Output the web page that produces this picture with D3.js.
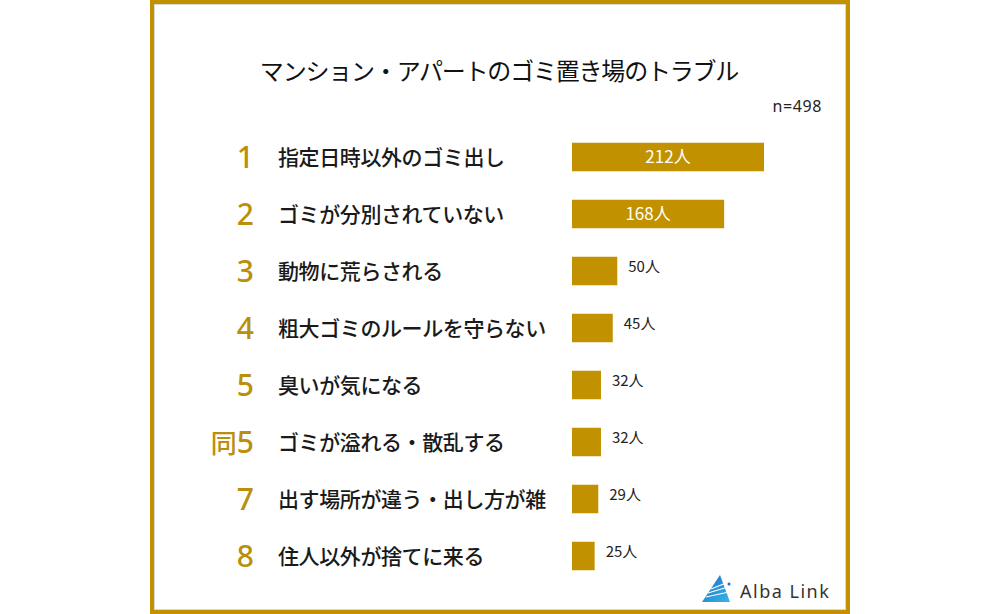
<!DOCTYPE html>
<html>
<head>
<meta charset="utf-8">
<script src="https://cdn.jsdelivr.net/npm/d3@7"></script>
<style>
  body { margin: 0; background: #fff; }
  svg { display: block; }
</style>
</head>
<body>
<svg id="chart"></svg>
<script>
// data
const ranks = ["1", "2", "3", "4", "5", "同5", "7", "8"];
const items = [
  "指定日時以外のゴミ出し",
  "ゴミが分別されていない",
  "動物に荒らされる",
  "粗大ゴミのルールを守らない",
  "臭いが気になる",
  "ゴミが溢れる・散乱する",
  "出す場所が違う・出し方が雑",
  "住人以外が捨てに来る"
];
const counts = [212, 168, 50, 45, 32, 32, 29, 25];
const title = "マンション・アパートのゴミ置き場のトラブル";
const sampleText = "n=498";

const width = 1000, height = 614;
const gold = "#c29100";
const rankGold = "#b98f0c";
const jp = "'Noto Sans CJK JP', 'Noto Sans', sans-serif";

const svg = d3.select("#chart")
  .attr("width", width)
  .attr("height", height);

// frame
svg.append("rect")
  .attr("x", 152).attr("y", 2)
  .attr("width", 696).attr("height", 610)
  .attr("fill", "#fff")
  .attr("stroke", gold)
  .attr("stroke-width", 4);
svg.append("rect")
  .attr("x", 154.5).attr("y", 4.5)
  .attr("width", 691).attr("height", 605)
  .attr("fill", "none")
  .attr("stroke", "#d8d8d8")
  .attr("stroke-width", 1);

// title
svg.append("text")
  .attr("x", 499).attr("y", 80)
  .attr("text-anchor", "middle")
  .style("font-family", jp)
  .style("font-size", "24px")
  .style("letter-spacing", "-1.2px")
  .style("font-weight", 400)
  .attr("fill", "#111")
  .text(title);

svg.append("text")
  .attr("x", 822).attr("y", 112)
  .attr("text-anchor", "end")
  .style("font-family", "'Noto Sans', sans-serif")
  .style("font-size", "16px")
  .style("letter-spacing", "0.6px")
  .attr("fill", "#222")
  .text(sampleText);

// scales
const y = d3.scaleBand()
  .domain(d3.range(counts.length))
  .range([128.5, 584.5])
  .paddingInner(0.5)
  .paddingOuter(0.25);

const x = d3.scaleLinear()
  .domain([0, 212])
  .range([572, 764]);

const rows = svg.append("g").selectAll("g")
  .data(counts)
  .join("g")
  .attr("class", "row");

// rank numbers
const rankText = rows.append("text")
  .attr("x", 254)
  .attr("y", (d, i) => y(i) + y.bandwidth() / 2)
  .attr("dy", "0.38em")
  .attr("text-anchor", "end")
  .attr("fill", rankGold)
  .style("font-family", "'Noto Sans', sans-serif")
  .style("font-size", "30px")
  .style("font-weight", 500);
rankText.each(function(d, i) {
  const r = ranks[i];
  const t = d3.select(this);
  if (r.length > 1) {
    t.append("tspan")
      .style("font-family", jp)
      .style("font-size", "26px")
      .style("font-weight", 500)
      .text(r.slice(0, r.length - 1));
    t.append("tspan").text(r.slice(-1));
  } else {
    t.text(r);
  }
});

// item labels
rows.append("text")
  .attr("x", 278)
  .attr("y", (d, i) => y(i) + y.bandwidth() / 2)
  .attr("dy", "0.38em")
  .attr("fill", "#1a1a1a")
  .style("font-family", jp)
  .style("font-size", "21px")
  .style("letter-spacing", "-0.4px")
  .style("font-weight", 500)
  .text((d, i) => items[i]);

// bars
rows.append("rect")
  .attr("x", x(0))
  .attr("y", (d, i) => y(i))
  .attr("width", d => x(d) - x(0))
  .attr("height", y.bandwidth())
  .attr("fill", gold);

// value labels
rows.append("text")
  .attr("x", d => d > 100 ? (x(0) + x(d)) / 2 : x(d) + 11)
  .attr("y", (d, i) => y(i) + y.bandwidth() / 2)
  .attr("dy", d => d > 100 ? "0.36em" : "0.05em")
  .attr("text-anchor", d => d > 100 ? "middle" : "start")
  .attr("fill", d => d > 100 ? "#fff" : "#222")
  .style("font-family", jp)
  .style("font-size", d => d > 100 ? "17px" : "15px")
  .style("font-weight", 400)
  .text(d => d + "人");

// logo
const logo = svg.append("g").attr("transform", "translate(702,575)");
const grad = svg.append("defs").append("linearGradient")
  .attr("id", "lg").attr("x1", 0).attr("y1", 0).attr("x2", 1).attr("y2", 1);
grad.append("stop").attr("offset", 0).attr("stop-color", "#1b6fc4");
grad.append("stop").attr("offset", 1).attr("stop-color", "#39b4ea");
logo.append("path")
  .attr("d", "M18,0 L28,27 L0,27 Z")
  .attr("fill", "url(#lg)");
logo.append("path")
  .attr("d", "M6,18 L26,12 M4,22 L27,17 M9,14 L24,8")
  .attr("stroke", "#fff")
  .attr("stroke-width", 1.2)
  .attr("fill", "none");
logo.append("circle")
  .attr("cx", 27).attr("cy", 9).attr("r", 1.5)
  .attr("fill", "#1b6fc4");
svg.append("text")
  .attr("x", 740).attr("y", 598)
  .style("font-family", "'Noto Sans', sans-serif")
  .style("font-size", "18px")
  .style("letter-spacing", "1.5px")
  .attr("fill", "#333")
  .text("Alba Link");
</script>
</body>
</html>
